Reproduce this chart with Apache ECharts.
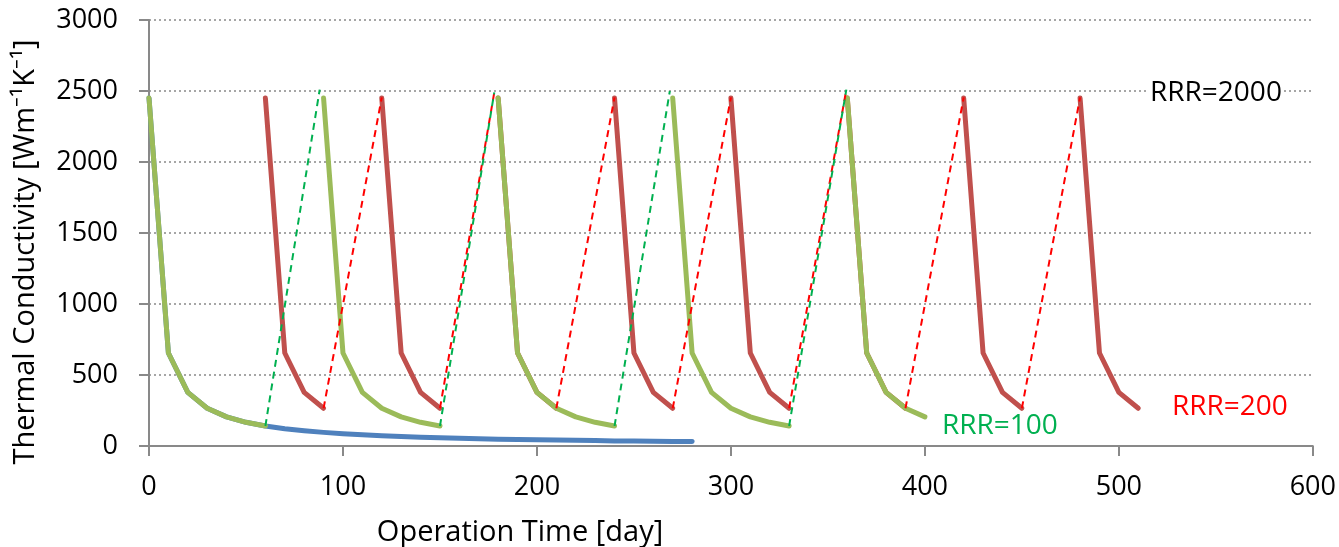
<!DOCTYPE html>
<html>
<head>
<meta charset="utf-8">
<script src="https://cdn.jsdelivr.net/npm/echarts@6/dist/echarts.min.js"></script>
<style>
html,body{margin:0;padding:0;background:#fff;}
#chart{width:1339px;height:547px;}
</style>
</head>
<body>
<div id="chart"></div>
<script>
// ---- data (day, thermal conductivity) ----
const xTicks = [0, 100, 200, 300, 400, 500, 600];
const yTicks = [0, 500, 1000, 1500, 2000, 2500, 3000];

// no-anneal decay (blue)
const blueDays   = [0, 10, 20, 30, 40, 50, 60, 70, 80, 90, 100, 110, 120, 130, 140, 150, 160, 170, 180, 190, 200, 210, 220, 230, 240, 250, 260, 270, 280];
const blueValues = [2450, 655, 378, 266, 205, 167, 141, 121, 107, 96, 87, 79, 73, 67, 62, 58, 54, 51, 48, 46, 44, 42, 40, 38, 36, 35, 34, 32, 31];

// RRR=100 solid segments (green), one array per annealing cycle
const green1 = [[0,2450],[10,655],[20,378],[30,266],[40,205],[50,167],[60,141]];
const green2 = [[90,2450],[100,655],[110,378],[120,266],[130,205],[140,167],[150,141]];
const green3 = [[180,2450],[190,655],[200,378],[210,266],[220,205],[230,167],[240,141]];
const green4 = [[270,2450],[280,655],[290,378],[300,266],[310,205],[320,167],[330,141]];
const green5 = [[360,2450],[370,655],[380,378],[390,266],[400,205]];

// RRR=200 solid segments (red)
const red1 = [[60,2450],[70,655],[80,378],[90,266]];
const red2 = [[120,2450],[130,655],[140,378],[150,266]];
const red3 = [[180,2450],[190,655],[200,378],[210,266]];
const red4 = [[240,2450],[250,655],[260,378],[270,266]];
const red5 = [[300,2450],[310,655],[320,378],[330,266]];
const red6 = [[360,2450],[370,655],[380,378],[390,266]];
const red7 = [[420,2450],[430,655],[440,378],[450,266]];
const red8 = [[480,2450],[490,655],[500,378],[510,266]];

// annealing jumps (dashed)
const greenJumps = [
  [[60,141],[88,2510]],
  [[150,141],[178,2490]],
  [[240,141],[268.5,2500]],
  [[330,141],[359.5,2510]]
];
const redJumps = [
  [[90,266],[120,2455]],
  [[150,266],[178,2490]],
  [[210,266],[240,2455]],
  [[270,266],[300,2455]],
  [[330,266],[359.5,2510]],
  [[390,266],[420,2455]],
  [[450,266],[480,2455]]
];

const labels = {
  rrr2000: 'RRR=2000',
  rrr100: 'RRR=100',
  rrr200: 'RRR=200',
  xName: 'Operation Time [day]',
  yName: 'Thermal Conductivity [Wm\u207B\u00B9K\u207B\u00B9]'
};

// ---- build ----
function joinSegments(segs) {
  const out = [];
  segs.forEach((s, i) => {
    if (i > 0) out.push([null, null]);
    s.forEach(p => out.push(p));
  });
  return out;
}

const FONT = 'Open Sans';
const chart = echarts.init(document.getElementById('chart'), null, {renderer: 'canvas'});

function solid(name, data, color, z) {
  return {
    name, type: 'line', data, showSymbol: false, symbol: 'none', z,
    connectNulls: false, animation: false, silent: true,
    lineStyle: {color, width: 5, cap: 'round', join: 'round'}
  };
}
function dashed(name, data, color, z) {
  return {
    name, type: 'line', data, showSymbol: false, symbol: 'none', z,
    connectNulls: false, animation: false, silent: true,
    lineStyle: {color, width: 2, type: [7, 5]}
  };
}

const option = {
  animation: false,
  backgroundColor: '#ffffff',
  grid: {left: 149, right: 23, top: 20, bottom: 101, containLabel: false},
  xAxis: {
    type: 'value', min: 0, max: 600, interval: 100,
    axisLine: {show: true, onZero: false, lineStyle: {color: '#898989', width: 2}},
    axisTick: {show: true, length: 10, lineStyle: {color: '#898989', width: 2}},
    splitLine: {show: false},
    axisLabel: {color: '#000', fontFamily: FONT, fontSize: 27, margin: 28,
      formatter: v => xTicks.includes(v) ? String(v) : ''}
  },
  yAxis: {
    type: 'value', min: 0, max: 3000, interval: 500,
    axisLine: {show: true, lineStyle: {color: '#898989', width: 2}},
    axisTick: {show: true, length: 10, lineStyle: {color: '#898989', width: 2}},
    splitLine: {show: true, lineStyle: {color: '#a6a6a6', width: 2, type: [2, 3]}},
    axisLabel: {color: '#000', fontFamily: FONT, fontSize: 27, margin: 31,
      formatter: v => yTicks.includes(v) ? String(v) : ''}
  },
  series: [
    solid('blue', blueDays.map((d, i) => [d, blueValues[i]]), '#4F81BD', 2),
    solid('RRR=200', joinSegments([red1, red2, red3, red4, red5, red6, red7, red8]), '#C0504D', 3),
    solid('RRR=100', joinSegments([green1, green2, green3, green4, green5]), '#9BBB59', 4),
    dashed('RRR=200 jump', joinSegments(redJumps), '#FF0000', 5),
    dashed('RRR=100 jump', joinSegments(greenJumps), '#00B050', 6)
  ],
  graphic: [
    {type: 'text', x: 1148, y: 93, z: 10, style: {text: labels.rrr2000, fill: '#000', font: '28px "' + FONT + '"', verticalAlign: 'middle', backgroundColor: '#fff', padding: [0, 2]}},
    {type: 'text', x: 942, y: 426, z: 10, style: {text: labels.rrr100, fill: '#00B050', font: '28px "' + FONT + '"', verticalAlign: 'middle'}},
    {type: 'text', x: 1172, y: 407, z: 10, style: {text: labels.rrr200, fill: '#FF0000', font: '28px "' + FONT + '"', verticalAlign: 'middle'}},
    {type: 'text', x: 520, y: 533, style: {text: labels.xName, fill: '#000', font: '29px "' + FONT + '"', align: 'center', verticalAlign: 'middle'}},
    {type: 'text', x: 26, y: 252, rotation: Math.PI / 2, style: {text: labels.yName, fill: '#000', font: '29px "' + FONT + '"', align: 'center', verticalAlign: 'middle'}}
  ]
};
chart.setOption(option);
</script>
</body>
</html>
